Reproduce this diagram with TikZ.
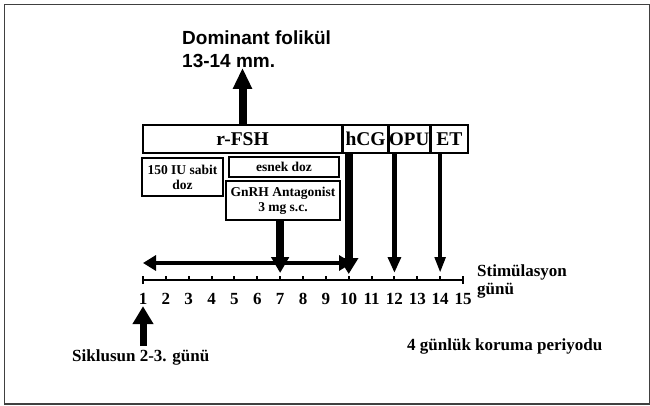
\documentclass[tikz,border=0pt]{standalone}
\usepackage{fontspec}
\setmainfont{Liberation Serif}
\newfontfamily\headfont{Liberation Sans}
\usetikzlibrary{positioning, arrows.meta, calc}

\begin{document}
\begin{tikzpicture}[
        x=1pt, y=-1pt,
        tbox/.style={draw, line width=1.6pt, inner sep=0pt, align=center, font=\bfseries\fontsize{13.5}{15}\selectfont},
        bigbox/.style={tbox, minimum height=28pt, font=\bfseries\fontsize{19.5}{20}\selectfont},
        lbl/.style={font=\bfseries\fontsize{17}{18}\selectfont, inner sep=0pt},
        fatarrow/.style={-{Triangle[width=18pt,length=21pt]}, line width=8pt},
        downarrow/.style={-{Triangle[width=#1*2.3pt,length=16pt]}, line width=#1pt},
        dblarrow/.style={{Triangle[width=15pt,length=13pt]}-{Triangle[width=15pt,length=13pt]}, line width=4.5pt}
    ]
    \useasboundingbox (0,0) rectangle (650,406);
    \draw[line width=1.5pt, black!75] (4.5,4.5) rectangle (649.5,404);

    % Drug boxes
    \node[bigbox, minimum width=199pt] (rfsh) at (242.5,139) {r-FSH};
    \node[bigbox, minimum width=44pt, right=0pt of rfsh] (hcg) {hCG};
    \node[bigbox, minimum width=40pt, right=0pt of hcg] (opu) {\fontsize{19}{20}\selectfont OPU};
    \node[bigbox, minimum width=37pt, right=0pt of opu] (et) {ET};
    \node[tbox, minimum width=81pt, minimum height=38pt] (sabit) at (182.5,177) {150 IU sabit\\doz};
    \node[tbox, minimum width=110pt, minimum height=20pt] (esnek) at (284,167) {esnek doz};
    \node[tbox, minimum width=114pt, minimum height=39pt] (gnrh) at (283,200.5) {GnRH Antagonist\\3 mg s.c.};

    % Stimulation axis
    \draw[line width=2.5pt] (143,280) -- (463,280);
    \foreach \i in {1,...,15} {
        \coordinate (t\i) at ({143+(\i-1)*22.857},280);
        \draw[line width=2pt] (t\i) -- ++(0,-4.5);
        \node[lbl, anchor=base] (n\i) at ({143+(\i-1)*22.857},304) {\i};
    }
    \draw[line width=2pt] ([yshift=-4pt]t1) -- ([yshift=4.5pt]t1);
    \draw[line width=2pt] ([yshift=-4pt]t15) -- ([yshift=4.5pt]t15);

    % Labels
    \node[anchor=north west, inner sep=0pt, align=left, font=\headfont\bfseries\fontsize{19}{23}\selectfont] (dom) at (182,30.5) {Dominant folikül\\13-14 mm.};
    \node[lbl, anchor=base west, align=left] (stim) at (477,294) {Stimülasyon\\günü};
    \node[lbl, anchor=base west, inner sep=3pt] (siklus) at (69,361) {Siklusun 2-3. günü};
    \node[lbl, anchor=base west] (koruma) at (407,350) {4 günlük koruma periyodu};

    % Arrows
    \draw[fatarrow] (rfsh.north) -- (rfsh.north |- dom.south);
    \draw[fatarrow, line width=7pt, -{Triangle[width=20pt,length=18pt]}] (n1.south |- siklus.north) -- ([yshift=-2pt]n1.south);
    \coordinate (dl) at (143,263);
    \coordinate (dr) at (352,263);
    \draw[dblarrow] (dl) -- (dr);
    \draw[downarrow=7.5] (gnrh.south -| t7) -- ([yshift=7pt]t7);
    \draw[downarrow=8] (hcg.south -| t10) -- ([yshift=6pt]t10);
    \draw[downarrow=5.5] (opu.south -| t12) -- ([yshift=7pt]t12);
    \draw[downarrow=4.5] (et.south -| t14) -- ([yshift=7pt]t14);
\end{tikzpicture}
\end{document}
